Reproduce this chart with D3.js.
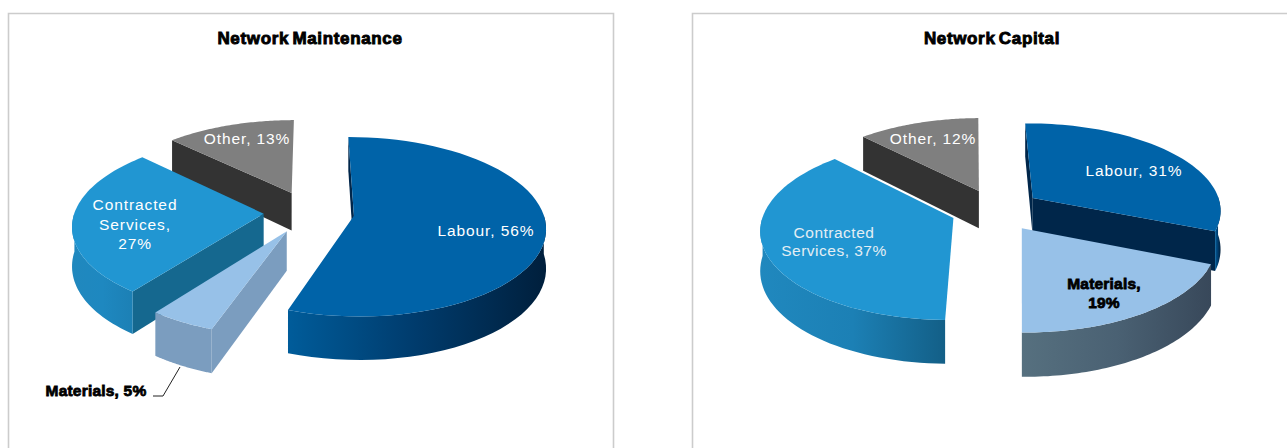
<!DOCTYPE html>
<html>
<head>
<meta charset="utf-8">
<script src="https://cdn.jsdelivr.net/npm/d3@7/dist/d3.min.js"></script>
<style>
html, body { margin: 0; padding: 0; background: #fff; }
svg { display: block; }
text { font-family: "Liberation Sans", Arial, sans-serif; }
</style>
</head>
<body>
<svg id="chart" width="1287" height="448"></svg>
<script>
// Spend breakdown, in percent
const categories = ["Labour", "Materials", "Contracted Services", "Other"];
const maintenanceValues = [56, 5, 27, 13];
const capitalValues = [31, 19, 37, 12];

const topColours = ["#0063a8", "#97c1e8", "#2196d2", "#7f7f7f"];
const cutColours = ["#00264a", "#7b9dbf", "#15688f", "#333333"];
const maintenanceRims = [
  ["#005c9a", "#003b6c", "#001f3c"],
  ["#7b9dbf", "#7b9dbf", "#7b9dbf"],
  ["#2088be", "#1e88c0", "#1c80b5"],
  ["#444444", "#3a3a3a", "#333333"]
];
const capitalRims = [
  ["#005c9a", "#003b6c", "#001f3c"],
  ["#56707f", "#4a6173", "#38485a"],
  ["#2088be", "#1c80b5", "#135f87"],
  ["#444444", "#3a3a3a", "#333333"]
];

// Labels sit at fixed spots on each panel; each entry is one block of lines
const maintenanceLabels = [
  { lines: ["Labour, 56%"], x: 486, y: 236, fill: "#fff" },
  { lines: ["Materials, 5%"], x: 96, y: 396, fill: "#000", heavy: true },
  { lines: ["Contracted", "Services,", "27%"], x: 135, y: 210, dy: 19.5, fill: "#fff" },
  { lines: ["Other, 13%"], x: 247, y: 144, fill: "#fff" }
];
const capitalLabels = [
  { lines: ["Labour, 31%"], x: 1134, y: 176, fill: "#fff" },
  { lines: ["Materials,", "19%"], x: 1104, y: 289, dy: 19, fill: "#000", heavy: true },
  { lines: ["Contracted", "Services, 37%"], x: 834, y: 238, dy: 17.5, fill: "#e4eef4", thin: true },
  { lines: ["Other, 12%"], x: 933, y: 144, fill: "#fff" }
];

const panels = [
  { title: "Network Maintenance", titleX: 310, left: 8.5, right: 613.5, cx: 309, cy: 212, turn: 0,
    values: maintenanceValues, rims: maintenanceRims, labels: maintenanceLabels,
    leader: [[180, 367], [163, 396], [153, 396]] },
  { title: "Network Capital", titleX: 992, left: 692.5, right: 1292, cx: 996, cy: 210, turn: -1,
    values: capitalValues, rims: capitalRims, labels: capitalLabels, leader: null }
];

const radius = 189;        // horizontal disc radius in px
const tilt = 0.47;         // vertical squash of the disc
const lens = 0.125;        // growth per unit toward the viewer
const wallHeight = 38.5;   // disc thickness in px
const explode = 0.24;      // slice pull-out, as a share of the radius

const svg = d3.select("#chart");
const defs = svg.append("defs");
const line = d3.line();

function drawPanel(panel, panelIndex) {
  const g = svg.append("g");
  const unitX = d3.scaleLinear().domain([0, 1]).range([0, radius]);
  const unitY = d3.scaleLinear().domain([0, 1]).range([0, radius * tilt]);
  const turn = panel.turn * Math.PI / 180;
  const pie = d3.pie().sort(null).startAngle(turn).endAngle(turn + 2 * Math.PI);

  // Ground-plane point (u, v) at height level z (0 top face, 1 bottom) to screen
  const project = (u, v, z) => {
    const p = 1 + lens * v;
    return [panel.cx + unitX(u) * p, panel.cy + (unitY(v) + z * wallHeight) * p];
  };

  const slices = pie(panel.values).map((d, i) => {
    const mid = (d.startAngle + d.endAngle) / 2;
    return {
      i,
      a0: d.startAngle,
      a1: d.endAngle,
      ox: explode * Math.sin(mid),
      oy: -explode * Math.cos(mid)
    };
  });
  const rimPoint = (s, a, z) => project(s.ox + Math.sin(a), s.oy - Math.cos(a), z);
  const hubPoint = (s, z) => project(s.ox, s.oy, z);
  const sweep = s => d3.range(0, 61).map(k => s.a0 + (s.a1 - s.a0) * k / 60);

  // Panel frame, open at the bottom of the page
  g.append("path")
    .attr("d", line([[panel.left, 448], [panel.left, 13.5], [panel.right, 13.5], [panel.right, 448]]))
    .attr("fill", "none")
    .attr("stroke", "#cccccc")
    .attr("stroke-width", 1.6);

  g.append("text")
    .attr("x", panel.titleX)
    .attr("y", 44)
    .attr("text-anchor", "middle")
    .attr("font-size", 17)
    .attr("font-weight", "bold")
    .attr("letter-spacing", 0.65)
    .attr("word-spacing", -2)
    .attr("stroke", "#000")
    .attr("stroke-width", 0.9)
    .text(panel.title);

  // Paint from the back of the pie to the front
  const order = slices.slice().sort((a, b) => a.oy - b.oy);
  order.forEach(s => {
    const angles = sweep(s);

    // Cut faces, the sides running from hub to rim
    [s.a0, s.a1].forEach((a, k) => {
      const facesViewer = k === 0 ? (Math.sin(a) < -0.1 || s.i === 0) : Math.sin(a) > 0.1;
      if (!facesViewer) return;
      g.append("path")
        .attr("d", line([hubPoint(s, 0), rimPoint(s, a, 0), rimPoint(s, a, 1), hubPoint(s, 1)]) + "Z")
        .attr("fill", cutColours[s.i]);
    });

    // Outer wall, only where the rim turns toward the viewer
    const front = angles.filter(a => Math.cos(a) < 0.02);
    if (front.length > 1) {
      const xs = front.map(a => rimPoint(s, a, 0)[0]);
      const id = `rim-${panelIndex}-${s.i}`;
      const gradient = defs.append("linearGradient")
        .attr("id", id)
        .attr("gradientUnits", "userSpaceOnUse")
        .attr("x1", d3.min(xs)).attr("x2", d3.max(xs))
        .attr("y1", 0).attr("y2", 0);
      panel.rims[s.i].forEach((c, k) => {
        gradient.append("stop").attr("offset", k / 2).attr("stop-color", c);
      });
      const outline = front.map(a => rimPoint(s, a, 0))
        .concat(front.slice().reverse().map(a => rimPoint(s, a, 1)));
      g.append("path").attr("d", line(outline) + "Z").attr("fill", `url(#${id})`);
    }

    // Top face
    const top = [hubPoint(s, 0)].concat(angles.map(a => rimPoint(s, a, 0)));
    g.append("path").attr("d", line(top) + "Z").attr("fill", topColours[s.i]);
  });

  if (panel.leader) {
    g.append("path")
      .attr("d", line(panel.leader))
      .attr("fill", "none")
      .attr("stroke", "#222")
      .attr("stroke-width", 1);
  }

  panel.labels.forEach(label => {
    const text = g.append("text")
      .attr("text-anchor", "middle")
      .attr("font-size", 15.5)
      .attr("letter-spacing", label.heavy ? 0.2 : (label.thin ? 0.5 : 0.9))
      .attr("fill", label.fill);
    if (label.heavy) {
      text.attr("font-weight", "bold").attr("stroke", "#000").attr("stroke-width", 0.8);
    }
    label.lines.forEach((t, k) => {
      text.append("tspan")
        .attr("x", label.x)
        .attr("y", label.y + k * (label.dy || 0))
        .text(t);
    });
  });
}

panels.forEach(drawPanel);
</script>
</body>
</html>
